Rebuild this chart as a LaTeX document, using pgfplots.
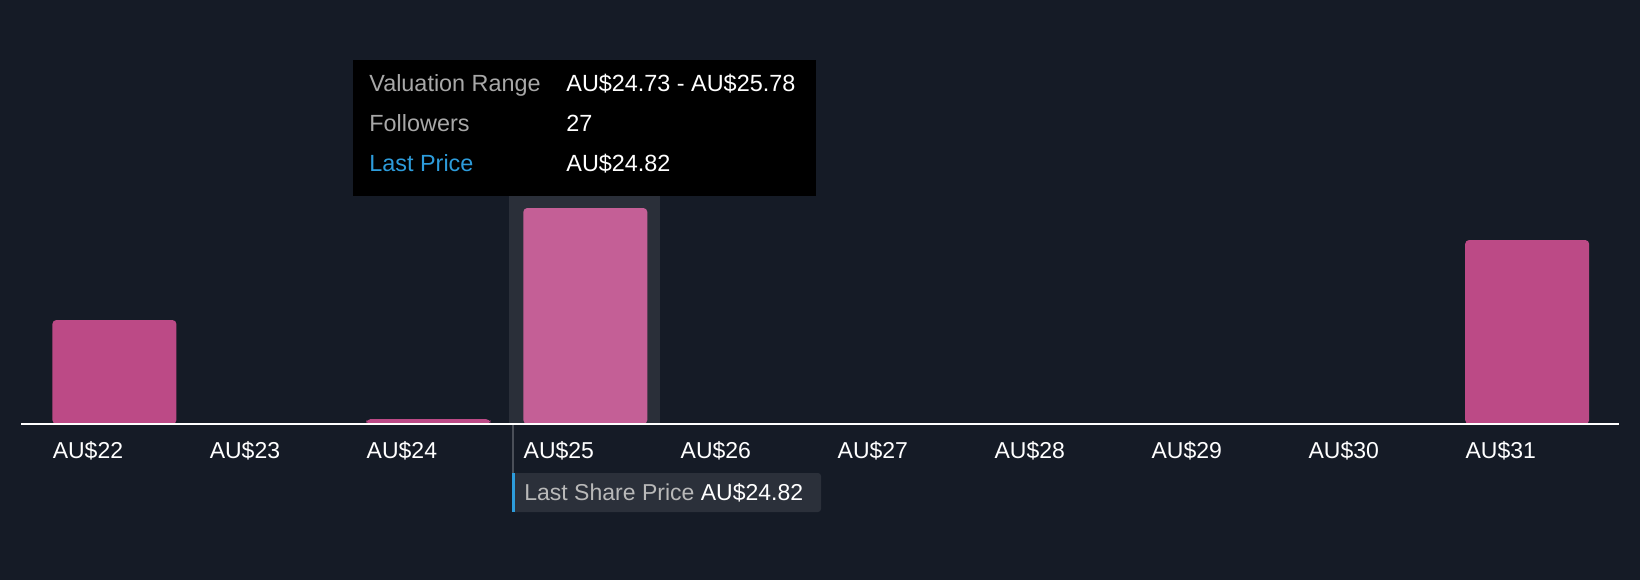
\documentclass[border=0pt]{standalone}
\usepackage{fontspec}
\setmainfont{Liberation Sans}
\usepackage{pgfplots}
\pgfplotsset{compat=1.18}

\definecolor{bg}{HTML}{151B26}
\definecolor{barpink}{HTML}{BC4A86}
\definecolor{barhi}{HTML}{C45F96}
\definecolor{band}{HTML}{2A2F39}
\definecolor{boxbg}{HTML}{2B303A}
\definecolor{lblgray}{HTML}{A8A8A8}
\definecolor{lpblue}{HTML}{2D9CDB}
\definecolor{vline}{HTML}{4A4F58}

\begin{document}
\begin{tikzpicture}
\fill[bg] (0,0) rectangle (820pt,290pt);

\begin{axis}[
    at={(10.5pt,78pt)}, anchor=south west,
    scale only axis,
    width=799pt, height=120pt,
    xmin=-0.2, xmax=9.98,
    ymin=0, ymax=30,
    axis y line=none,
    axis x line*=bottom,
    x axis line style={white, line width=1pt},
    axis on top,
    xtick={0,...,9},
    xticklabels={AU\$22,AU\$23,AU\$24,AU\$25,AU\$26,AU\$27,AU\$28,AU\$29,AU\$30,AU\$31},
    major tick length=0pt,
    xticklabel style={anchor=base west, inner sep=0pt, yshift=-17pt,
        text=white, font=\fontsize{11.5}{13}\selectfont},
    ytick=\empty,
]
% highlight band behind the selected bin
\fill[band] (axis cs:2.91,0) rectangle (axis cs:3.87,28.5);

\addplot[ybar, bar width=62pt, bar shift=31pt, fill=barpink, draw=none,
    rounded corners=2pt]
    coordinates {(0,13) (2,0.6) (9,23)};
\addplot[ybar, bar width=62pt, bar shift=31pt, fill=barhi, draw=none,
    rounded corners=2pt]
    coordinates {(3,27)};
\end{axis}

% last share price marker
\draw[vline, line width=1pt] (256.5pt,77.5pt) -- (256.5pt,53.5pt);
\fill[boxbg, rounded corners=1.5pt] (256pt,34pt) rectangle (410.5pt,53.5pt);
\fill[lpblue] (256pt,34pt) rectangle (257.5pt,53.5pt);
\node[anchor=base west, inner sep=0pt, text=lblgray!80!white,
    font=\fontsize{11.5}{13}\selectfont] at (262pt,39.9pt)
    {Last Share Price \textcolor{white}{AU\$24.82}};

% tooltip
\fill[black] (176.5pt,192pt) rectangle (408pt,260pt);
\begin{scope}[every node/.style={anchor=base west, inner sep=0pt,
    font=\fontsize{11.7}{13}\selectfont}]
\node[text=lblgray] at (184.5pt,244.3pt) {Valuation Range};
\node[text=lblgray] at (184.5pt,224.3pt) {Followers};
\node[text=lpblue]  at (184.5pt,204.3pt) {Last Price};
\node[text=white] at (283pt,244.3pt) {AU\$24.73 - AU\$25.78};
\node[text=white] at (283pt,224.3pt) {27};
\node[text=white] at (283pt,204.3pt) {AU\$24.82};
\end{scope}
\end{tikzpicture}
\end{document}
